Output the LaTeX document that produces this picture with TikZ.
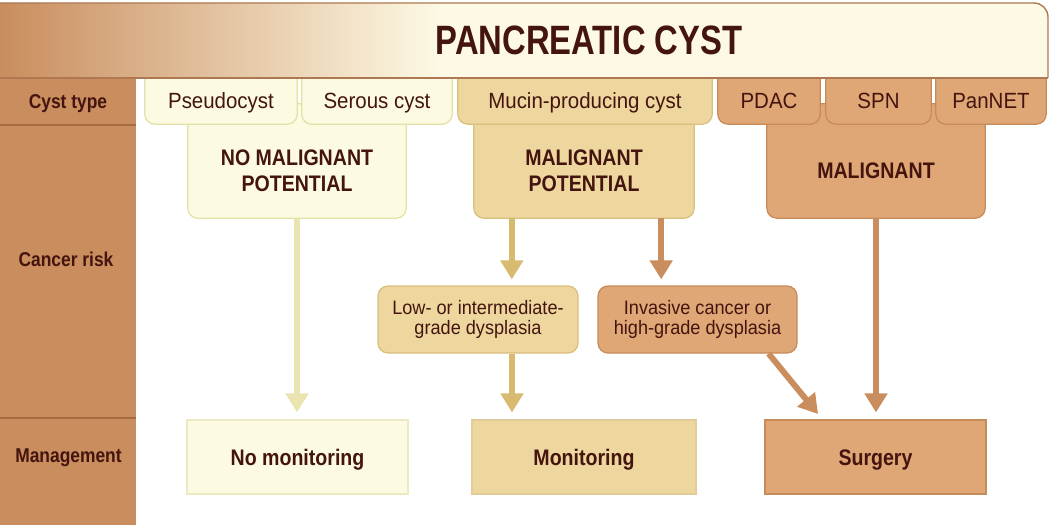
\documentclass[tikz,border=0pt]{standalone}
\usepackage{fontspec}
\setmainfont{Liberation Sans}
\newfontfamily\titlefont{Liberation Sans}[FakeStretch=0.80]
\newfontfamily\narrowfont{Liberation Sans}[FakeStretch=0.87]
\newfontfamily\regfont{Liberation Sans}[FakeStretch=0.93]
\usetikzlibrary{arrows.meta,backgrounds,calc}
\definecolor{ink}{HTML}{44140F}
\definecolor{colA}{HTML}{C98D5E}
\definecolor{colLine}{HTML}{A9693E}
\definecolor{cream}{HTML}{FDF9E4}
\definecolor{hdrline}{HTML}{AE7852}
\definecolor{paleF}{HTML}{FCFAE1}
\definecolor{paleD}{HTML}{E2E1A8}
\definecolor{paleA}{HTML}{EAE4B1}
\definecolor{midF}{HTML}{EDD79E}
\definecolor{midD}{HTML}{D9BE7C}
\definecolor{midA}{HTML}{D8BA71}
\definecolor{orF}{HTML}{DFA676}
\definecolor{orD}{HTML}{C78A59}
\definecolor{orA}{HTML}{CA8E5E}
\begin{document}
\begin{tikzpicture}[x=1pt,y=-1pt,
  tabnode/.style={text=ink, font=\regfont\fontsize{22}{25}\selectfont, inner sep=0pt,
    text height=15.5pt, text depth=0pt, minimum height=46pt},
  bignode/.style={text=ink, font=\narrowfont\bfseries\fontsize{22.5}{26.5}\selectfont,
    inner sep=0pt, align=center, minimum height=94pt},
  smallnode/.style={text=ink, font=\regfont\fontsize{19.5}{20.5}\selectfont, inner sep=0pt,
    align=center, minimum height=67pt, rounded corners=10pt, line width=1.2pt},
  mgmtnode/.style={text=ink, font=\narrowfont\bfseries\fontsize{22.5}{26}\selectfont,
    inner sep=0pt, text height=16pt, text depth=0pt, minimum height=74pt, line width=1.1pt},
  leftlab/.style={text=ink, font=\narrowfont\bfseries\fontsize{20}{23}\selectfont,
    inner sep=0pt, text height=14.3pt, text depth=0pt},
  arr/.style={line width=6pt, -{Triangle[width=22pt,length=19pt]}},
  boxshape/.style={line width=1.2pt, rounded corners=10pt}
]
\useasboundingbox (0,0) rectangle (1050,527);

% ---------- nodes (text) ----------
\node[text=ink, font=\titlefont\bfseries\fontsize{41}{44}\selectfont, inner sep=0pt,
      text height=29.5pt, text depth=0pt] (title) at (589,40) {PANCREATIC CYST};

\node[leftlab] (lcyst) at (68,101) {Cyst type};
\node[leftlab] (lrisk) at (66,259.5) {Cancer risk};
\node[leftlab] (lmgmt) at (68.5,455.5) {Management};

\node[tabnode, minimum width=152pt] (pseudo) at (221,101) {Pseudocyst};
\node[tabnode, minimum width=150pt] (serous) at (377,101) {Serous cyst};
\node[tabnode, minimum width=254pt] (mucin) at (585,101) {Mucin-producing cyst};
\node[tabnode, minimum width=102pt] (pdac) at (769,101) {PDAC};
\node[tabnode, minimum width=105pt] (spn) at (878.5,101) {SPN};
\node[tabnode, minimum width=110pt] (pannet) at (991,101) {PanNET};

\node[bignode, minimum width=218pt] (nomal) at (297,171) {NO MALIGNANT\\POTENTIAL};
\node[bignode, minimum width=220pt] (malpot) at (584,171) {MALIGNANT\\POTENTIAL};
\node[bignode, minimum width=218pt] (mal) at (876,171) {MALIGNANT};

\node[smallnode, fill=midF, draw=midD, minimum width=200pt] (low) at (478,319.5)
  {Low- or intermediate-\\grade dysplasia};
\node[smallnode, fill=orF, draw=orD, minimum width=199pt] (inv) at (697.5,319.5)
  {Invasive cancer or\\high-grade dysplasia};

\node[mgmtnode, fill=paleF, draw=paleD!70, minimum width=221pt] (nomon) at (297.5,457) {No monitoring};
\node[mgmtnode, fill=midF, draw=midD!80, minimum width=224pt] (mon) at (584,457) {Monitoring};
\node[mgmtnode, fill=orF, draw=orD, minimum width=221pt] (surg) at (875.5,457) {Surgery};

% ---------- background shapes ----------
\begin{scope}[on background layer]
  % cancer-risk boxes (top hidden under the tabs)
  \filldraw[boxshape, fill=paleF, draw=paleD] ([yshift=20pt]nomal.north west) rectangle (nomal.south east);
  \filldraw[boxshape, fill=midF, draw=midD] ([yshift=20pt]malpot.north west) rectangle (malpot.south east);
  \filldraw[boxshape, fill=orF, draw=orD] ([yshift=20pt]mal.north west) rectangle (mal.south east);
  % cyst-type tabs (top hidden under the header)
  \filldraw[boxshape, fill=paleF, draw=paleD] ([yshift=14pt]pseudo.north west) rectangle (pseudo.south east);
  \filldraw[boxshape, fill=paleF, draw=paleD] ([yshift=14pt]serous.north west) rectangle (serous.south east);
  \filldraw[boxshape, fill=midF, draw=midD] ([yshift=14pt]mucin.north west) rectangle (mucin.south east);
  \filldraw[boxshape, fill=orF, draw=orD] ([yshift=14pt]pdac.north west) rectangle (pdac.south east);
  \filldraw[boxshape, fill=orF, draw=orD] ([yshift=14pt]spn.north west) rectangle (spn.south east);
  \filldraw[boxshape, fill=orF, draw=orD] ([yshift=14pt]pannet.north west) rectangle (pannet.south east);
  % header bar (rounded only at top right)
  \begin{scope}
    \clip (-40,-5) rectangle (1060,78);
    \fill[cream, rounded corners=14pt] (-30,3) rectangle (1048,110);
    \begin{scope}
      \clip[rounded corners=14pt] (-30,3) rectangle (1048,110);
      \shade[left color=colA, right color=cream] (-1,3) rectangle (440,78);
    \end{scope}
    \draw[hdrline, line width=1.4pt, rounded corners=14pt] (-30,3) rectangle (1048,110);
  \end{scope}
  \draw[hdrline, line width=1.4pt] (0,78) -- (1048,78);
  % left column
  \fill[colA] (0,78.7) rectangle (136,525);
  \draw[colLine, line width=1.5pt] (0,125) -- (136,125);
  \draw[colLine, line width=1.5pt] (0,418) -- (136,418);
\end{scope}

% ---------- connectors ----------
\coordinate (mpL) at ([xshift=38pt]malpot.south west);
\coordinate (mpR) at ([xshift=-33pt]malpot.south east);
\coordinate (lowB) at ([xshift=34pt]low.south);
\coordinate (invB) at ([xshift=-29pt]inv.south east);
\coordinate (surgT) at ([xshift=-53pt]surg.north);

\draw[arr, paleA, shorten >=7pt] (nomal.south) -- (nomal.south |- nomon.north);
\draw[arr, midA, shorten >=6pt] (mpL) -- (mpL |- low.north);
\draw[arr, orA, shorten >=6pt] (mpR) -- (mpR |- inv.north);
\draw[arr, midA, shorten >=7pt] (lowB) -- (lowB |- mon.north);
\draw[arr, orA, shorten >=7pt] (invB) -- (surgT);
\draw[arr, orA, shorten >=7pt] (mal.south) -- (mal.south |- surg.north);
\end{tikzpicture}
\end{document}
